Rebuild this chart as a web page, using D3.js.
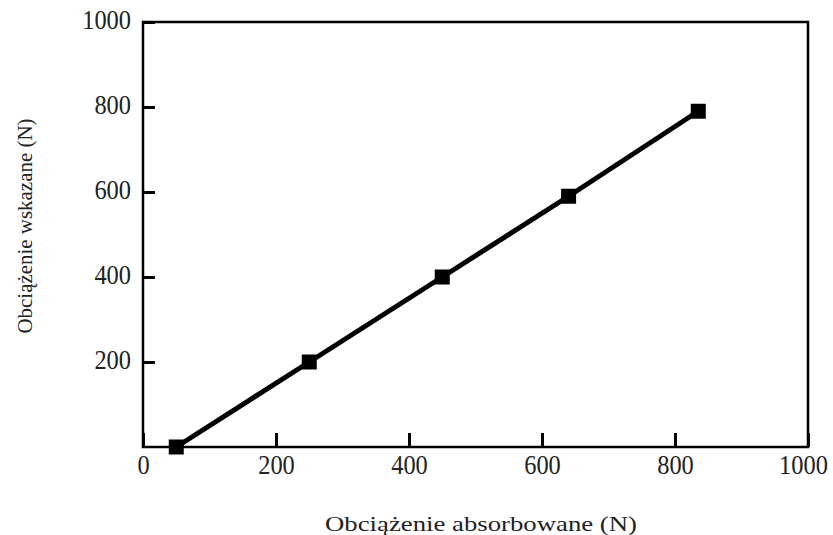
<!DOCTYPE html>
<html>
<head>
<meta charset="utf-8">
<script src="https://cdn.jsdelivr.net/npm/d3@7"></script>
<style>
  body { margin: 0; background: #fff; }
</style>
</head>
<body>
<div id="root"></div>
<script>
// values
const absorbed = [50, 250, 450, 640, 835]
const indicated = [0, 200, 400, 590, 790]
const xTicks = [0, 200, 400, 600, 800, 1000]
const yTicks = [200, 400, 600, 800, 1000]
const xTitle = 'Obciążenie absorbowane (N)'
const yTitle = 'Obciążenie wskazane (N)'

const graph = { width: 833, height: 535, left: 143, right: 808, top: 22, bottom: 447 }
const serif = "'Liberation Serif', 'Times New Roman', serif"

const svg = d3.select('#root')
  .append('svg')
  .attr('width', graph.width)
  .attr('height', graph.height)

const scaleX = d3.scaleLinear().domain([0, 1000]).range([graph.left, graph.right])
const scaleY = d3.scaleLinear().domain([0, 1000]).range([graph.bottom, graph.top])

// frame
svg.append('rect')
  .attr('x', graph.left)
  .attr('y', graph.top)
  .attr('width', graph.right - graph.left)
  .attr('height', graph.bottom - graph.top)
  .attr('fill', 'none')
  .attr('stroke', '#000')
  .attr('stroke-width', 2.5)

// tick labels are a narrow serif, squeeze them a bit
const squeeze = sel => sel
  .attr('font-size', 28)
  .attr('font-family', serif)
  .attr('fill', '#222')
  .attr('textLength', d => String(d).length * 12.2)
  .attr('lengthAdjust', 'spacingAndGlyphs')

// x axis, ticks pointing inward
const xAxis = svg.append('g')
  .attr('transform', `translate(0, ${graph.bottom})`)
  .call(d3.axisBottom(scaleX).tickValues(xTicks).tickFormat(d3.format('d')).tickSizeInner(-14).tickSizeOuter(0).tickPadding(27))
xAxis.select('.domain').remove()
xAxis.selectAll('line').attr('stroke', '#000').attr('stroke-width', 3)
xAxis.selectAll('text').call(squeeze).attr('dy', 0)
xAxis.selectAll('text').filter(d => d === 1000).attr('dx', -5)

// y axis
const yAxis = svg.append('g')
  .attr('transform', `translate(${graph.left}, 0)`)
  .call(d3.axisLeft(scaleY).tickValues(yTicks).tickFormat(d3.format('d')).tickSizeInner(-12).tickSizeOuter(0))
yAxis.select('.domain').remove()
yAxis.selectAll('line').attr('stroke', '#000').attr('stroke-width', 3)
yAxis.selectAll('text').call(squeeze).attr('x', -12).attr('dy', '0.22em')

// series
const points = absorbed.map((a, i) => ({ x: a, y: indicated[i] }))

svg.append('path')
  .datum(points)
  .attr('fill', 'none')
  .attr('stroke', '#000')
  .attr('stroke-width', 5)
  .attr('d', d3.line().x(d => scaleX(d.x)).y(d => scaleY(d.y)))

svg.selectAll('.pt')
  .data(points)
  .join('rect')
  .attr('class', 'pt')
  .attr('x', d => scaleX(d.x) - 7.5)
  .attr('y', d => scaleY(d.y) - 7.5)
  .attr('width', 15)
  .attr('height', 15)
  .attr('fill', '#000')

// titles
svg.append('text')
  .attr('x', 481)
  .attr('y', 531)
  .attr('text-anchor', 'middle')
  .attr('font-family', serif)
  .attr('font-size', 22)
  .attr('fill', '#222')
  .attr('textLength', 312)
  .attr('lengthAdjust', 'spacingAndGlyphs')
  .text(xTitle)

svg.append('text')
  .attr('transform', 'translate(32, 226) rotate(-90)')
  .attr('text-anchor', 'middle')
  .attr('font-family', serif)
  .attr('font-size', 21)
  .attr('fill', '#222')
  .attr('textLength', 215)
  .attr('lengthAdjust', 'spacingAndGlyphs')
  .text(yTitle)
</script>
</body>
</html>
